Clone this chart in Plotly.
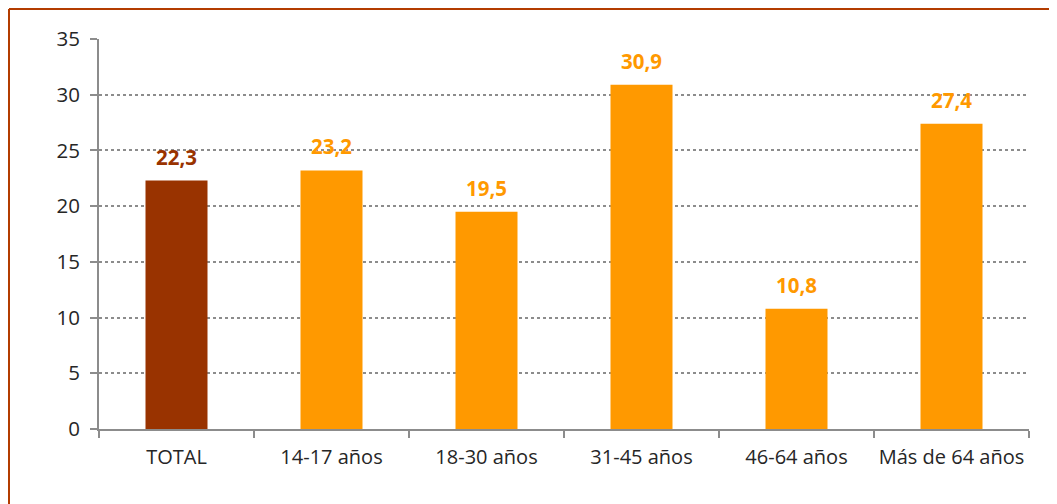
import plotly.graph_objects as go

categories = ["TOTAL", "14-17 años", "18-30 años", "31-45 años", "46-64 años", "Más de 64 años"]
values = [22.3, 23.2, 19.5, 30.9, 10.8, 27.4]
labels = ["22,3", "23,2", "19,5", "30,9", "10,8", "27,4"]
y_ticks = [0, 5, 10, 15, 20, 25, 30, 35]

colors = ["#993300"] + ["#FF9900"] * 5

fig = go.Figure()
fig.add_trace(go.Bar(
    x=categories, y=values, marker=dict(color=colors, line=dict(width=0)),
    width=0.4, hoverinfo="skip",
))

for c, v, t, col in zip(categories, values, labels, colors):
    fig.add_annotation(x=c, y=v, text="<b>%s</b>" % t, showarrow=False,
                       yshift=24, font=dict(size=20.5, color=col, family="Open Sans"))

# page body has an 8px margin; layout coordinates compensate for it
W, H = 1049, 496
L, R, T, B = 91, 28, 31, 75
pw, ph = W - L - R, H - T - B

fig.update_layout(
    width=W, height=H,
    margin=dict(l=L, r=R, t=T, b=B, pad=0, autoexpand=False),
    paper_bgcolor="white", plot_bgcolor="white",
    showlegend=False,
    font=dict(family="Open Sans", size=19, color="#262626"),
)
fig.update_yaxes(
    range=[0, 35], tickvals=y_ticks, showgrid=True, gridcolor="#8c8c8c",
    griddash="dot", gridwidth=1.5, showline=True, linecolor="#8c8c8c", linewidth=2,
    ticks="outside", ticklen=7, tickcolor="#8c8c8c", tickwidth=2,
    ticklabelstandoff=6, automargin=False,
    tickfont=dict(size=20.5, color="#262626"), zeroline=False, fixedrange=True,
)
fig.update_xaxes(
    showline=True, linecolor="#8c8c8c", linewidth=2, ticks="outside", ticklen=7,
    tickcolor="#8c8c8c", tickwidth=2, tickson="boundaries", showgrid=False,
    ticklabelstandoff=9, tickangle=0, automargin=False,
    tickfont=dict(size=20, color="#262626"), fixedrange=True,
)

# chart frame (top and left edges visible)
fx0 = (1 - L) / pw
fy1 = 1 + (T - 1) / ph
fig.add_shape(type="line", xref="paper", yref="paper", x0=fx0, x1=(W + 10 - L) / pw,
              y0=fy1, y1=fy1, line=dict(color="#B33C00", width=2))
fig.add_shape(type="line", xref="paper", yref="paper", x0=fx0, x1=fx0,
              y0=fy1, y1=-(B + 10) / ph, line=dict(color="#B33C00", width=2))

fig.write_html("out.html")
